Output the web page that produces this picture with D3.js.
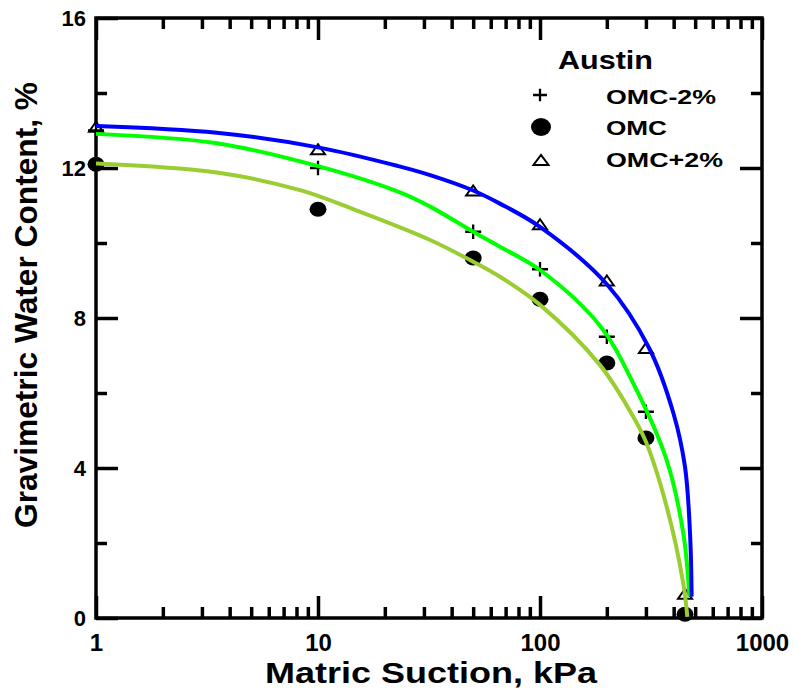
<!DOCTYPE html>
<html>
<head>
<meta charset="utf-8">
<script src="https://cdn.jsdelivr.net/npm/d3@7"></script>
<style>
  body { margin: 0; background: #fff; }
  text { font-family: "Liberation Sans", Arial, sans-serif; font-weight: bold; fill: #000; }
</style>
</head>
<body>
<svg id="chart" width="798" height="700"></svg>
<script>
// measured points (matric suction kPa -> gravimetric water content %)
const suction = [1, 10, 50, 100, 200, 300, 450];
const wMinus2 = [13.0, 12.0, 10.3, 9.3, 7.5, 5.5];
const wOmc = [12.1, 10.9, 9.6, 8.5, 6.8, 4.8, 0.1];
const wPlus2 = [13.1, 12.5, 11.4, 10.5, 9.0, 7.2, 0.65];

// fitted curves
const fitPlus2X = [1, 3.5, 10, 23, 32, 50, 66, 100, 200, 310, 399, 450, 474, 482];
const fitPlus2Y = [13.12, 12.94, 12.55, 12.05, 11.81, 11.4, 11.05, 10.43, 8.9, 7.2, 5.46, 4.03, 2.26, 0.57];
const fitMinus2X = [1, 3.5, 10, 23.4, 32, 50, 66, 100, 186, 263, 372, 442, 471];
const fitMinus2Y = [12.91, 12.66, 12.05, 11.35, 10.97, 10.3, 9.9, 9.28, 7.8, 6.26, 4.21, 2.26, 0.57];
const fitOmcX = [1, 3.5, 8.3, 15.5, 32, 50, 66, 100, 186, 263, 300, 372, 442, 461];
const fitOmcY = [12.12, 11.88, 11.41, 10.83, 10.08, 9.5, 9.1, 8.35, 6.75, 5.37, 4.7, 2.97, 0.92, 0.03];

const xMajor = [1, 10, 100, 1000];
const xMinor = [2, 3, 4, 5, 6, 7, 8, 9, 20, 30, 40, 50, 60, 70, 80, 90, 200, 300, 400, 500, 600, 700, 800, 900];
const yMajor = [0, 4, 8, 12, 16];
const yMinor = [2, 6, 10, 14];

const legendNames = ['OMC-2%', 'OMC', 'OMC+2%'];

const svg = d3.select('#chart');
const x = d3.scaleLog().domain([1, 1000]).range([96, 762]);
const y = d3.scaleLinear().domain([0, 16]).range([618, 18]);

const axisStroke = 3.5;

function styleAxis(g) {
    g.select('.domain').remove();
    g.selectAll('.tick line').attr('stroke', '#000').attr('stroke-width', axisStroke);
}

// bottom
svg.append('g').attr('transform', 'translate(0,618)')
    .call(d3.axisBottom(x).tickValues(xMajor).tickSize(-22).tickPadding(16).tickFormat(d3.format('d')))
    .call(styleAxis)
    .selectAll('text').style('font-size', '24px').style('font-family', '"Liberation Sans", Arial, sans-serif');
svg.append('g').attr('transform', 'translate(0,618)')
    .call(d3.axisBottom(x).tickValues(xMinor).tickSize(-11).tickFormat(''))
    .call(styleAxis);
// top
svg.append('g').attr('transform', 'translate(0,18)')
    .call(d3.axisTop(x).tickValues(xMajor).tickSize(-22).tickFormat(''))
    .call(styleAxis);
svg.append('g').attr('transform', 'translate(0,18)')
    .call(d3.axisTop(x).tickValues(xMinor).tickSize(-11).tickFormat(''))
    .call(styleAxis);
// left
svg.append('g').attr('transform', 'translate(96,0)')
    .call(d3.axisLeft(y).tickValues(yMajor).tickSize(-22).tickPadding(10).tickFormat(d3.format('d')))
    .call(styleAxis)
    .selectAll('text').style('font-size', '22px').style('font-family', '"Liberation Sans", Arial, sans-serif');
svg.append('g').attr('transform', 'translate(96,0)')
    .call(d3.axisLeft(y).tickValues(yMinor).tickSize(-11).tickFormat(''))
    .call(styleAxis);
// right
svg.append('g').attr('transform', 'translate(762,0)')
    .call(d3.axisRight(y).tickValues(yMajor).tickSize(-22).tickFormat(''))
    .call(styleAxis);
svg.append('g').attr('transform', 'translate(762,0)')
    .call(d3.axisRight(y).tickValues(yMinor).tickSize(-11).tickFormat(''))
    .call(styleAxis);

// frame
svg.append('rect')
    .attr('x', x(1)).attr('y', y(16))
    .attr('width', x(1000) - x(1)).attr('height', y(0) - y(16))
    .attr('fill', 'none').attr('stroke', '#000').attr('stroke-width', axisStroke);

// axis titles
svg.append('text')
    .attr('x', 431).attr('y', 683)
    .attr('text-anchor', 'middle')
    .attr('textLength', 332).attr('lengthAdjust', 'spacingAndGlyphs')
    .style('font-size', '30px')
    .text('Matric Suction, kPa');

svg.append('text')
    .attr('transform', 'translate(37,305) rotate(-90)')
    .attr('text-anchor', 'middle')
    .attr('textLength', 446).attr('lengthAdjust', 'spacingAndGlyphs')
    .style('font-size', '31px')
    .text('Gravimetric Water Content, %');

// marker shapes
const plusPath = (cx, cy, s) => `M${cx - s},${cy}H${cx + s}M${cx},${cy - s * 0.9}V${cy + s * 0.9}`;
const triPath = (cx, cy, w, h) => `M${cx - w / 2},${cy + h / 2}L${cx + w / 2},${cy + h / 2}L${cx},${cy - h / 2}Z`;

const ptsMinus2 = wMinus2.map((w, i) => [suction[i], w]);
const ptsOmc = wOmc.map((w, i) => [suction[i], w]);
const ptsPlus2 = wPlus2.map((w, i) => [suction[i], w]);

const marks = svg.append('g');
marks.selectAll('.tri').data(ptsPlus2).enter().append('path')
    .attr('class', 'tri')
    .attr('d', d => triPath(x(d[0]), y(d[1]), 14, 10))
    .attr('fill', '#fff').attr('stroke', '#000').attr('stroke-width', 2);
marks.selectAll('.plus').data(ptsMinus2).enter().append('path')
    .attr('class', 'plus')
    .attr('d', d => plusPath(x(d[0]), y(d[1]), 8))
    .attr('fill', 'none').attr('stroke', '#000').attr('stroke-width', 2.3);
marks.selectAll('.dot').data(ptsOmc).enter().append('ellipse')
    .attr('class', 'dot')
    .attr('cx', d => x(d[0])).attr('cy', d => y(d[1]))
    .attr('rx', 8.5).attr('ry', 7.5)
    .attr('fill', '#000');

// fitted curves
const line = d3.line()
    .x(d => x(d[0]))
    .y(d => y(d[1]))
    .curve(d3.curveCatmullRom.alpha(0.5));

const fits = [
    { xs: fitOmcX, ys: fitOmcY, color: '#9acd32' },
    { xs: fitMinus2X, ys: fitMinus2Y, color: '#00ff00' },
    { xs: fitPlus2X, ys: fitPlus2Y, color: '#0000ff' }
];
fits.forEach(f => {
    svg.append('path')
        .datum(f.xs.map((s, i) => [s, f.ys[i]]))
        .attr('d', line)
        .attr('fill', 'none')
        .attr('stroke', f.color)
        .attr('stroke-width', 4);
});

// legend
const legend = svg.append('g');
legend.append('text')
    .attr('x', 558).attr('y', 69)
    .attr('textLength', 95).attr('lengthAdjust', 'spacingAndGlyphs')
    .style('font-size', '26px')
    .text('Austin');

const legendY = [104, 135, 167];
const legendW = [110, 61, 117];
legendNames.forEach((name, i) => {
    legend.append('text')
        .attr('x', 606).attr('y', legendY[i])
        .attr('textLength', legendW[i]).attr('lengthAdjust', 'spacingAndGlyphs')
        .style('font-size', '20px')
        .text(name);
});
legend.append('path')
    .attr('d', plusPath(540, 95, 7))
    .attr('fill', 'none').attr('stroke', '#000').attr('stroke-width', 2.3);
legend.append('ellipse')
    .attr('cx', 541).attr('cy', 127).attr('rx', 10).attr('ry', 9)
    .attr('fill', '#000');
legend.append('path')
    .attr('d', triPath(541, 160, 15, 10))
    .attr('fill', '#fff').attr('stroke', '#000').attr('stroke-width', 2);
</script>
</body>
</html>
